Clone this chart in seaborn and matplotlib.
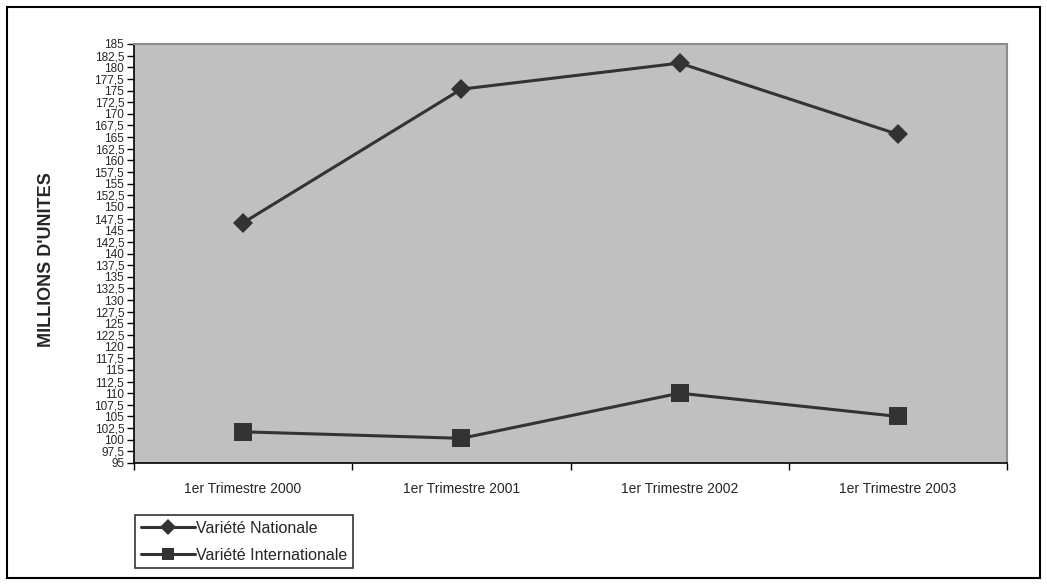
import matplotlib
matplotlib.use("Agg")
import matplotlib.pyplot as plt
import seaborn as sns
import pandas as pd
from matplotlib.patches import Rectangle

categories = ["1er Trimestre 2000", "1er Trimestre 2001", "1er Trimestre 2002", "1er Trimestre 2003"]
nationale = [146.6, 175.3, 180.9, 165.6]
internationale = [101.7, 100.3, 110.0, 105.0]
series_names = ["Variété Nationale", "Variété Internationale"]
ytick_values = [95 + 2.5 * i for i in range(37)]
ytick_labels = ["95", "97,5", "100", "102,5", "105", "107,5", "110", "112,5", "115", "117,5",
                "120", "122,5", "125", "127,5", "130", "132,5", "135", "137,5", "140", "142,5",
                "145", "147,5", "150", "152,5", "155", "157,5", "160", "162,5", "165", "167,5",
                "170", "172,5", "175", "177,5", "180", "182,5", "185"]

sns.set_theme(style="white")
plt.rcParams["font.family"] = ["Liberation Sans", "DejaVu Sans"]

W, H = 1047, 585
fig = plt.figure(figsize=(W / 100, H / 100), dpi=100)
ax = fig.add_axes([134 / W, 1 - 463 / H, (1007 - 134) / W, (463 - 44) / H])
ax.set_facecolor("#C0C0C0")

df = pd.DataFrame({
    "x": list(range(len(categories))) * 2,
    "value": nationale + internationale,
    "serie": [series_names[0]] * 4 + [series_names[1]] * 4,
})

sns.lineplot(data=df, x="x", y="value", hue="serie", style="serie",
             markers={series_names[0]: "D", series_names[1]: "s"}, dashes=False,
             palette={series_names[0]: "#333333", series_names[1]: "#333333"},
             linewidth=2.2, markersize=11, markeredgewidth=0, ax=ax)
for line, ms in zip(ax.get_lines()[:2], [10, 13]):
    line.set_markersize(ms)

ax.set_xlim(-0.5, 3.5)
ax.set_ylim(95, 185)
ax.set_xticks([-0.5, 0.5, 1.5, 2.5, 3.5])
ax.set_xticklabels([])
ax.set_xticks(range(4), minor=True)
ax.set_xticklabels(categories, minor=True, fontsize=10)
ax.tick_params(axis="x", which="major", direction="out", length=5, width=1, color="black", bottom=True)
ax.tick_params(axis="x", which="minor", length=0, pad=14)
ax.set_yticks(ytick_values)
ax.set_yticklabels(ytick_labels, fontsize=8.5)
ax.tick_params(axis="y", direction="out", length=5, width=1, color="black", left=True, pad=2)

ax.set_xlabel("")
ax.set_ylabel("")
fig.text(47 / W, 1 - 260 / H, "MILLIONS D'UNITES", rotation=90, fontsize=13,
         fontweight="bold", ha="center", va="center")

for side in ["left", "bottom"]:
    ax.spines[side].set_color("black")
    ax.spines[side].set_linewidth(1.2)
for side in ["top", "right"]:
    ax.spines[side].set_color("#8C8C8C")
    ax.spines[side].set_linewidth(1.5)

leg = ax.legend(loc="upper left", bbox_to_anchor=(135 / W, 1 - 515 / H),
                bbox_transform=fig.transFigure, borderaxespad=0, fontsize=11.5,
                frameon=True, fancybox=False, handlelength=3.4, handletextpad=0.1,
                labelspacing=0.75, borderpad=0.35)
leg.get_frame().set_edgecolor("black")
leg.get_frame().set_linewidth(1.2)
leg.get_frame().set_facecolor("white")
for h, ms in zip(leg.legend_handles, [8, 9]):
    h.set_markersize(ms)

fig.patches.append(Rectangle((7 / W, 1 - 578 / H), (1040 - 7) / W, (578 - 7) / H,
                             transform=fig.transFigure, fill=False, edgecolor="black",
                             linewidth=1.5))

fig.savefig("out.png", dpi=100)
